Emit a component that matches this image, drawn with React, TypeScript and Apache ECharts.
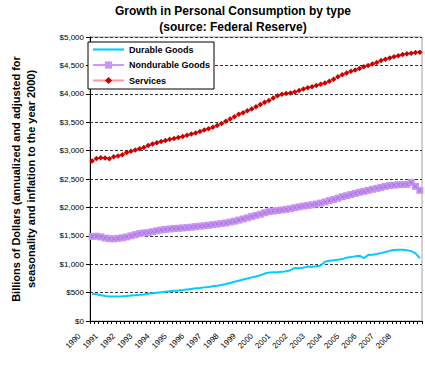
import React, { useEffect, useRef } from "react";
import * as echarts from "echarts";

const years = ["1990","1991","1992","1993","1994","1995","1996","1997","1998","1999","2000","2001","2002","2003","2004","2005","2006","2007","2008","2009"];
const quarters = ["Q1","Q2","Q3","Q4"];
const categories: string[] = [];
years.forEach((y) => quarters.forEach((q) => { if (!(y === "2009" && q !== "Q1")) categories.push(y + " " + q); }));
const tickLabels = ["1990","1991","1992","1993","1994","1995","1996","1997","1998","1999","2000","2001","2002","2003","2004","2005","2006","2007","2008"];

const durableGoods = [
  480, 470, 455, 440,
  432, 430, 432, 435,
  440, 448, 455, 462,
  468, 478, 488, 498,
  505, 515, 525, 532,
  537, 545, 555, 565,
  575, 583, 592, 600,
  612, 622, 635, 650,
  670, 690, 710, 730,
  748, 768, 785, 805,
  835, 852, 857, 860,
  865, 875, 895, 935,
  928, 940, 958, 955,
  965, 978, 1045, 1062,
  1070, 1080, 1090, 1115,
  1125, 1138, 1150, 1108,
  1160, 1165, 1178, 1195,
  1215, 1235, 1250, 1256,
  1255, 1245, 1230, 1190,
  1105
];

const nondurableGoods = [
  1488, 1492, 1480, 1460,
  1450, 1447, 1455, 1465,
  1480, 1500, 1520, 1540,
  1550, 1560, 1572, 1588,
  1602, 1612, 1620, 1628,
  1633, 1638, 1645, 1652,
  1662, 1670, 1678, 1686,
  1696, 1706, 1716, 1727,
  1742, 1757, 1776, 1796,
  1816, 1840, 1860, 1880,
  1905, 1925, 1935, 1945,
  1955, 1965, 1977, 1995,
  2010, 2024, 2035, 2046,
  2060, 2076, 2097, 2120,
  2140, 2162, 2188, 2206,
  2226, 2246, 2266, 2282,
  2300, 2318, 2335, 2352,
  2370, 2384, 2392, 2400,
  2402, 2405, 2441, 2370,
  2300
];

const services = [
  2818, 2860, 2875, 2870,
  2858, 2890, 2905, 2925,
  2965, 2990, 3010, 3032,
  3055, 3090, 3115, 3140,
  3160, 3180, 3200, 3215,
  3232, 3250, 3270, 3292,
  3312, 3338, 3362, 3385,
  3410, 3442, 3478, 3515,
  3555, 3598, 3638, 3668,
  3700, 3732, 3770, 3810,
  3850, 3882, 3925, 3965,
  3990, 4005, 4015, 4030,
  4060, 4085, 4105, 4125,
  4145, 4168, 4192, 4222,
  4258, 4298, 4335, 4365,
  4395, 4420, 4445, 4476,
  4500, 4525, 4552, 4585,
  4610, 4632, 4652, 4672,
  4690, 4705, 4716, 4725,
  4730
];

const FONT = "'Liberation Sans', Arial, sans-serif";
const xMark = "path://M0,1 L1,0 L5,4 L9,0 L10,1 L6,5 L10,9 L9,10 L5,6 L1,10 L0,9 L4,5 Z";
const lineIcon = "path://M0,0 L32,0 L32,2.2 L0,2.2 Z";

function fmtDollar(v: number): string {
  const s = String(Math.round(v));
  return "$" + s.replace(/\B(?=(\d{3})+(?!\d))/g, ",");
}

export default function App() {
  const ref = useRef<HTMLDivElement>(null);
  useEffect(() => {
    if (!ref.current) return;
    const chart = echarts.init(ref.current, undefined, { renderer: "svg" });
    chart.setOption({
      animation: false,
      backgroundColor: "#ffffff",
      textStyle: { fontFamily: FONT },
      title: {
        text: "Growth in Personal Consumption by type\n(source: Federal Reserve)",
        left: 233,
        top: 3,
        padding: 0,
        textAlign: "center",
        textStyle: { fontFamily: FONT, fontSize: 12, fontWeight: "bold", color: "#000", lineHeight: 16 },
      },
      legend: {
        data: [
          { name: "Durable Goods", icon: lineIcon },
          { name: "Nondurable Goods" },
          { name: "Services" },
        ],
        orient: "vertical",
        left: 88,
        top: 42,
        itemWidth: 31,
        itemHeight: 9,
        itemGap: 6.5,
        symbolKeepAspect: true,
        padding: [3, 4, 4, 4],
        borderColor: "#000",
        borderWidth: 1,
        backgroundColor: "#fff",
        textStyle: { fontFamily: FONT, fontSize: 9, fontWeight: "bold", color: "#000" },
      },
      grid: {
        left: 77,
        right: 3,
        top: 37,
        bottom: 44,
        show: true,
        borderColor: "#a0a0a0",
        borderWidth: 1,
      },
      xAxis: {
        type: "category",
        data: categories,
        boundaryGap: true,
        axisLine: { lineStyle: { color: "#000", width: 1 } },
        axisTick: { show: true, interval: 0, length: 3, lineStyle: { color: "#000" } },
        axisLabel: {
          interval: 0,
          rotate: 45,
          margin: 1,
          fontFamily: FONT,
          fontSize: 8,
          color: "#000",
          rich: { t: { fontFamily: FONT, fontSize: 8, color: "#000", padding: [0, 18, 0, 0] } },
          formatter: (val: string) => {
            const [y, q] = val.split(" ");
            return q === "Q1" && tickLabels.indexOf(y) >= 0 ? "{t|" + y + "}" : "";
          },
        },
        splitLine: { show: false },
      },
      yAxis: {
        type: "value",
        min: 0,
        max: 5000,
        interval: 500,
        name: "Billions of Dollars (annualized and adjusted for\nseasonality and inflation to the year 2000)",
        nameLocation: "middle",
        nameGap: 52,
        nameTextStyle: { fontFamily: FONT, fontSize: 11, fontWeight: "bold", color: "#000", lineHeight: 15 },
        axisLine: { show: true, lineStyle: { color: "#000", width: 1 } },
        axisTick: { show: true, length: 4, lineStyle: { color: "#000" } },
        axisLabel: { fontFamily: FONT, fontSize: 8, color: "#000", margin: 6, formatter: (v: number) => fmtDollar(v) },
        splitLine: { show: true, lineStyle: { color: "#333", type: [3, 2], width: 1 } },
      },
      series: [
        {
          name: "Durable Goods",
          type: "line",
          data: durableGoods,
          symbol: "none",
          lineStyle: { color: "#00CCFF", width: 2 },
          itemStyle: { color: "#00CCFF" },
        },
        {
          name: "Nondurable Goods",
          type: "line",
          data: nondurableGoods,
          symbol: "rect",
          symbolSize: 7,
          lineStyle: { color: "#CC99FF", width: 2 },
          itemStyle: { color: "#C896F5" },
        },
        {
          name: "Nondurable marks",
          type: "line",
          data: nondurableGoods,
          symbol: xMark,
          symbolSize: 4,
          lineStyle: { opacity: 0 },
          itemStyle: { color: "#9966CC" },
        },
        {
          name: "Services",
          type: "line",
          data: services,
          symbol: "diamond",
          symbolSize: 5.5,
          lineStyle: { color: "#FF9999", width: 2 },
          itemStyle: { color: "#CC0000" },
        },
      ],
    });
    return () => chart.dispose();
  }, []);
  return <div ref={ref} style={{ position: "absolute", left: 0, top: 0, width: 425, height: 365 }} />;
}
